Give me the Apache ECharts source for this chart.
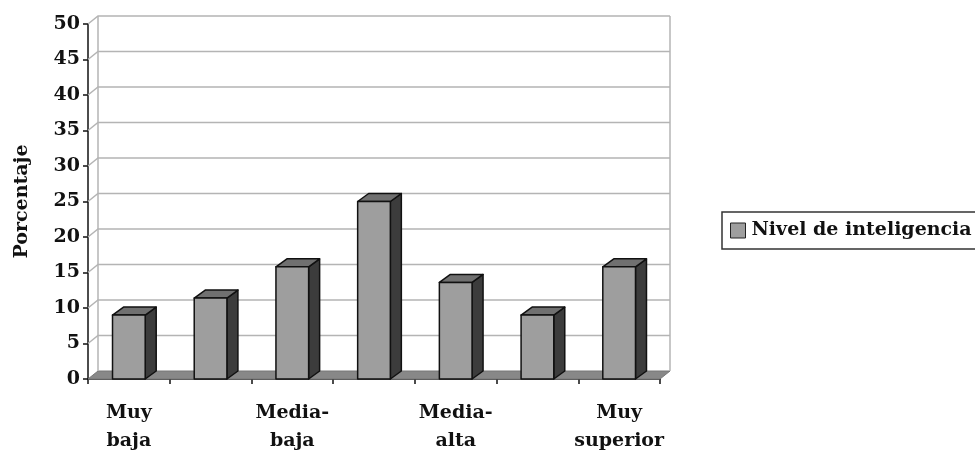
<!DOCTYPE html>
<html>
<head>
<meta charset="utf-8">
<script src="https://cdn.jsdelivr.net/npm/echarts@6/dist/echarts.min.js"></script>
<style>
  html, body { margin: 0; padding: 0; background: #fff; }
  #chart { width: 975px; height: 451px; }
</style>
</head>
<body>
<div id="chart"></div>
<script>
// Distribution of intelligence levels (percentage of the sample)
const categories = ['Muy\nbaja', 'Baja', 'Media-\nbaja', 'Media', 'Media-\nalta', 'Alta', 'Muy\nsuperior'];
const values = [9, 11.4, 15.8, 25, 13.6, 9, 15.8];
const yTicks = [0, 5, 10, 15, 20, 25, 30, 35, 40, 45, 50];
const seriesName = 'Nivel de inteligencia';

const FONT = '"DejaVu Serif", "Liberation Serif", serif';
const DEPTH_X = 10;   // horizontal offset of the back plane
const DEPTH_Y = -8;   // vertical offset of the back plane

const chart = echarts.init(document.getElementById('chart'));

// Back wall, left wall gridlines and floor
function renderWalls(params, api) {
  const cs = params.coordSys;
  const v = api.value(0);
  const y = api.coord([0, v])[1];
  const x0 = cs.x, x1 = cs.x + cs.width;
  const children = [];
  if (params.dataIndex === 0) {
    const yb = api.coord([0, 0])[1];
    const yt = api.coord([0, yTicks[yTicks.length - 1]])[1];
    children.push({
      type: 'polygon',
      shape: { points: [[x0, yb], [x1, yb], [x1 + DEPTH_X, yb + DEPTH_Y], [x0 + DEPTH_X, yb + DEPTH_Y]] },
      style: { fill: '#888888', stroke: '#777', lineWidth: 1 }
    });
    children.push({
      type: 'line',
      shape: { x1: x0 + DEPTH_X, y1: yb + DEPTH_Y, x2: x0 + DEPTH_X, y2: yt + DEPTH_Y },
      style: { stroke: '#b4b4b4', lineWidth: 1.5 }
    });
    children.push({
      type: 'line',
      shape: { x1: x1 + DEPTH_X, y1: yb + DEPTH_Y, x2: x1 + DEPTH_X, y2: yt + DEPTH_Y },
      style: { stroke: '#b4b4b4', lineWidth: 1.5 }
    });
  }
  if (v > 0) {
    children.push({
      type: 'polyline',
      shape: { points: [[x0, y], [x0 + DEPTH_X, y + DEPTH_Y], [x1 + DEPTH_X, y + DEPTH_Y]] },
      style: { stroke: '#b4b4b4', lineWidth: 1.5, fill: null }
    });
  }
  return { type: 'group', children: children };
}

// Pseudo-3D column: front face, top face and side face
function renderBar(params, api) {
  const idx = api.value(0);
  const top = api.coord([idx, api.value(1)]);
  const base = api.coord([idx, 0]);
  const band = api.size([1, 0])[0];
  const w = band * 0.4;
  const x = top[0] - w / 2;
  const yt = top[1], yb = base[1];
  const dx = DEPTH_X + 1, dy = DEPTH_Y;
  const edge = { stroke: '#111', lineWidth: 1.5, lineJoin: 'round' };
  return {
    type: 'group',
    children: [
      {
        type: 'polygon',
        shape: { points: [[x + w, yt], [x + w + dx, yt + dy], [x + w + dx, yb + dy], [x + w, yb]] },
        style: Object.assign({ fill: '#3c3c3c' }, edge)
      },
      {
        type: 'polygon',
        shape: { points: [[x, yt], [x + w, yt], [x + w + dx, yt + dy], [x + dx, yt + dy]] },
        style: Object.assign({ fill: '#707070' }, edge)
      },
      {
        type: 'rect',
        shape: { x: x, y: yt, width: w, height: yb - yt },
        style: Object.assign({ fill: '#9e9e9e' }, edge)
      }
    ]
  };
}

const option = {
  backgroundColor: '#fff',
  animation: false,
  grid: { left: 88, right: 315, top: 24, bottom: 72, containLabel: false, outerBoundsMode: 'none' },
  legend: {
    data: [{ name: seriesName, icon: 'rect' }],
    left: 722,
    top: 212,
    orient: 'vertical',
    itemWidth: 15,
    itemHeight: 15,
    padding: [9, 10, 9, 8],
    borderColor: '#333',
    borderWidth: 1.5,
    borderRadius: 0,
    selectedMode: false,
    itemStyle: { color: '#9e9e9e', borderColor: '#222', borderWidth: 1 },
    textStyle: { fontFamily: FONT, fontWeight: 'bold', fontSize: 19, color: '#111', padding: [0, 0, 0, 1] }
  },
  xAxis: {
    type: 'category',
    data: categories,
    boundaryGap: true,
    axisLine: { lineStyle: { color: '#111', width: 1.5 } },
    axisTick: { show: true, interval: 0, length: 5, lineStyle: { color: '#111', width: 1.5 } },
    axisLabel: {
      interval: 1,
      margin: 20,
      fontFamily: FONT,
      fontWeight: 'bold',
      fontSize: 19,
      lineHeight: 28,
      color: '#111'
    },
    splitLine: { show: false }
  },
  yAxis: {
    type: 'value',
    min: 0,
    max: 50,
    interval: 5,
    name: 'Porcentaje',
    nameLocation: 'middle',
    nameRotate: 90,
    nameGap: 56,
    nameTextStyle: { fontFamily: FONT, fontWeight: 'bold', fontSize: 19, color: '#111' },
    axisLine: { show: true, lineStyle: { color: '#111', width: 1.5 } },
    axisTick: { show: true, length: 5, lineStyle: { color: '#111', width: 1.5 } },
    axisLabel: { margin: 8, fontFamily: FONT, fontWeight: 'bold', fontSize: 19, color: '#111' },
    splitLine: { show: false }
  },
  series: [
    {
      type: 'custom',
      name: 'walls',
      silent: true,
      z: 1,
      renderItem: renderWalls,
      data: yTicks.map(function (t) { return [t]; }),
      encode: { x: -1, y: 0 }
    },
    {
      type: 'custom',
      name: seriesName,
      z: 3,
      itemStyle: { color: '#9e9e9e' },
      renderItem: renderBar,
      data: values.map(function (v, i) { return [i, v]; }),
      encode: { x: 0, y: 1 }
    }
  ]
};

chart.setOption(option);
</script>
</body>
</html>
